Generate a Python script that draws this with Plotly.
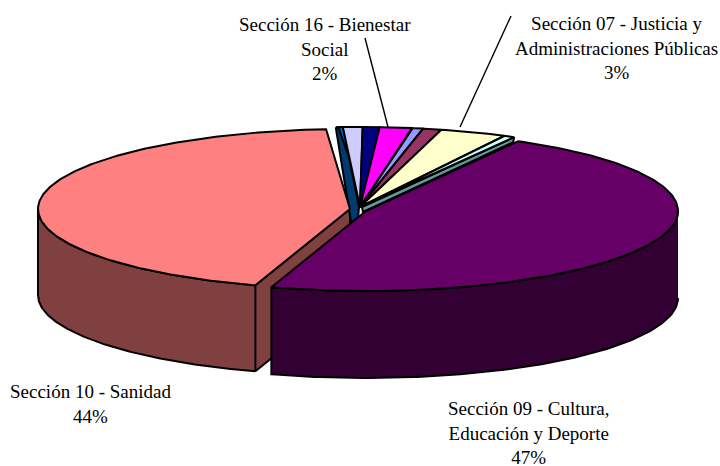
import numpy as np
import plotly.graph_objects as go

# --- data (percent, clockwise from the top-left thin slice) ---
slice_names = ["Sección a", "Sección b", "Sección c", "Sección 16 - Bienestar Social",
               "Sección d", "Sección e", "Sección 07 - Justicia y Administraciones Públicas",
               "Sección f", "Sección 09 - Cultura, Educación y Deporte", "Sección 10 - Sanidad"]
slice_values = [0.36, 1.0, 0.86, 1.64, 0.58, 0.94, 3.4, 0.58, 46.93, 44.0]
top_colors = ["#0066CC", "#CCCCFF", "#000080", "#FF00FF", "#9999FF", "#993366",
              "#FFFFCC", "#CCFFFF", "#660066", "#FF8080"]
wall_colors = {8: "#330033", 9: "#804040"}

# --- projection of the tilted pie ---
START = -4.4
RY, DEPTH = 80, 86
CENTERS = {8: (366, 211), 9: (350, 209)}
RADII = {8: 312, 9: 312}
C0, R0 = (360, 207), 316

fig = go.Figure()
LW = 2


def poly(xs, ys, color):
    fig.add_trace(go.Scatter(x=list(xs), y=list(ys), mode="lines", fill="toself", fillcolor=color,
                             line=dict(color="black", width=LW), hoverinfo="skip", showlegend=False))


def rim(c, r, a0, a1, n=120):
    t = np.radians(np.linspace(a0, a1, n))
    return c[0] + r * np.sin(t), c[1] - RY * np.cos(t)


edges = START + np.cumsum([0] + slice_values) / sum(slice_values) * 360

# walls: sanidad first, then cultura
c, r = CENTERS[9], RADII[9]
a0, a1 = edges[9], edges[10]
ax, ay = rim(c, r, a0, 270)
poly(np.r_[ax, ax[::-1]], np.r_[ay, ay[::-1] + DEPTH], wall_colors[9])
x0, y0 = rim(c, r, a0, a0, 1)
poly([x0[0], c[0], c[0], x0[0], x0[0]], [y0[0], c[1], c[1] + DEPTH, y0[0] + DEPTH, y0[0]], wall_colors[9])

c, r = CENTERS[8], RADII[8]
ax, ay = rim(c, r, 90, edges[9])
poly(np.r_[ax, ax[::-1]], np.r_[ay, ay[::-1] + DEPTH + 1], wall_colors[8])

# thin slices: side faces visible behind the cut
c, r = C0, R0
x0, y0 = rim(c, r, edges[0], edges[1], 8)
poly(np.r_[x0, c[0] - 1, c[0] - 2, c[0] - 9, x0[0]], np.r_[y0, c[1], c[1] + 12, c[1] + 15, y0[0]], "#003A6E")
x1, y1 = rim(c, r, edges[8], edges[8], 1)
poly([x1[0], x1[0] - 1, c[0] + 3, c[0] + 2, x1[0]], [y1[0], y1[0] + 5, c[1] + 5, c[1], y1[0]], "#669999")

# top faces
for i in range(10):
    cc, rr = (CENTERS[i], RADII[i]) if i in CENTERS else (C0, R0)
    if i == 0:
        tx, ty = rim(cc, rr, edges[0] + 0.45, edges[1], 6)
        fx = tx[-1] + 0.4 * (cc[0] - tx[-1])
        fy = ty[-1] + 0.4 * (cc[1] - ty[-1])
        poly(np.r_[fx, tx, fx], np.r_[fy, ty, fy], top_colors[0])
        continue
    tx, ty = rim(cc, rr, edges[i], edges[i + 1], 200 if i >= 8 else 16)
    poly(np.r_[cc[0], tx, cc[0]], np.r_[cc[1], ty, cc[1]], top_colors[i])

# leader lines
for lx, ly in [((365, 388), (38, 127)), ((511, 460), (16, 127))]:
    fig.add_trace(go.Scatter(x=lx, y=ly, mode="lines", line=dict(color="black", width=1.4),
                             hoverinfo="skip", showlegend=False))

labels = [("Sección 16 - Bienestar<br>Social<br>2%", 324.5, 49),
          ("Sección 07 - Justicia y<br>Administraciones Públicas<br>3%", 616, 47.5),
          ("Sección 10 - Sanidad<br>44%", 90, 403.5),
          ("Sección 09 - Cultura,<br>Educación y Deporte<br>47%", 528.5, 433)]
for txt, x, y in labels:
    fig.add_annotation(x=x, y=y, text=txt, showarrow=False, xanchor="center", yanchor="middle",
                       align="center", font=dict(family="Liberation Serif", size=19, color="black"))

fig.update_layout(width=720, height=466, margin=dict(l=0, r=0, t=0, b=0),
                  paper_bgcolor="white", plot_bgcolor="white",
                  xaxis=dict(range=[0, 720], visible=False, fixedrange=True),
                  yaxis=dict(range=[466, 0], visible=False, fixedrange=True))
fig.write_html("out.html", config=dict(displayModeBar=False),
               post_script="document.body.style.margin='0';document.body.style.overflow='hidden';")
